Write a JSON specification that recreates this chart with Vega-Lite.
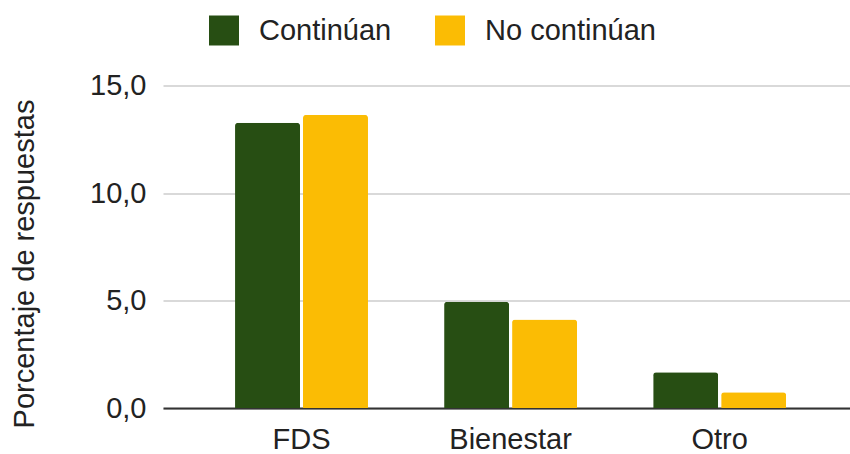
{
  "$schema": "https://vega.github.io/schema/vega-lite/v6.json",
  "width": 687,
  "height": 322.5,
  "autosize": {"type": "none"},
  "padding": {"left": 163, "top": 85.5, "right": 0, "bottom": 46},
  "background": "white",
  "config": {
    "font": "Liberation Sans",
    "view": {"stroke": null}
  },
  "data": {
    "values": [
      {"categoria": "FDS", "grupo": "Continúan", "valor": 13.27},
      {"categoria": "FDS", "grupo": "No continúan", "valor": 13.63},
      {"categoria": "Bienestar", "grupo": "Continúan", "valor": 4.94},
      {"categoria": "Bienestar", "grupo": "No continúan", "valor": 4.12},
      {"categoria": "Otro", "grupo": "Continúan", "valor": 1.66},
      {"categoria": "Otro", "grupo": "No continúan", "valor": 0.73}
    ]
  },
  "mark": {"type": "bar", "cornerRadiusEnd": 3},
  "encoding": {
    "x": {
      "field": "categoria",
      "type": "nominal",
      "sort": ["FDS", "Bienestar", "Otro"],
      "scale": {"paddingInner": 0.364, "paddingOuter": 0.325, "align": 0.53},
      "axis": {
        "title": null,
        "labelAngle": 0,
        "labelFontSize": 29,
        "labelColor": "#222222",
        "labelPadding": 17,
        "ticks": false,
        "domainColor": "#333333",
        "domainWidth": 2
      }
    },
    "xOffset": {
      "field": "grupo",
      "type": "nominal",
      "sort": ["Continúan", "No continúan"],
      "scale": {"paddingInner": 0.044}
    },
    "y": {
      "field": "valor",
      "type": "quantitative",
      "scale": {"domain": [0, 15], "nice": false},
      "axis": {
        "title": "Porcentaje de respuestas",
        "titleFontSize": 29,
        "titleFontWeight": "normal",
        "titleColor": "#222222",
        "titlePadding": 50,
        "titleY": 178,
        "values": [0, 5, 10, 15],
        "labelExpr": "replace(format(datum.value, '.1f'), '.', ',')",
        "labelFontSize": 29,
        "labelColor": "#222222",
        "labelPadding": 17,
        "ticks": false,
        "domain": false,
        "gridColor": "#cccccc",
        "gridWidth": 1.5
      }
    },
    "color": {
      "field": "grupo",
      "type": "nominal",
      "sort": ["Continúan", "No continúan"],
      "scale": {"range": ["#274e13", "#fbbc04"]},
      "legend": {
        "title": null,
        "orient": "none",
        "direction": "horizontal",
        "legendX": 46,
        "legendY": -70,
        "symbolType": "square",
        "symbolSize": 900,
        "symbolStrokeWidth": 0,
        "labelFontSize": 29,
        "labelLimit": 400,
        "labelColor": "#222222",
        "labelOffset": 20,
        "columnPadding": 43
      }
    }
  }
}
